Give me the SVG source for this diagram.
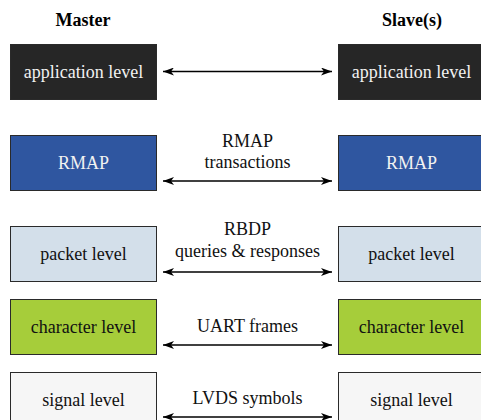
<svg xmlns="http://www.w3.org/2000/svg" width="481" height="420" viewBox="0 0 481 420">
<defs>
<marker id="ah" viewBox="0 0 12 8" refX="11" refY="4" markerWidth="12" markerHeight="8" markerUnits="userSpaceOnUse" orient="auto-start-reverse">
<path d="M0,0 L11,4 L0,8 L3,4 z" fill="#000"/>
</marker>
<style>
.box{stroke:#2a2a2a;stroke-width:1}
text{font-family:'Liberation Serif','DejaVu Serif',serif;font-size:18px;text-anchor:middle}
.h{font-weight:bold;fill:#000}
.w{fill:#f2f2f2}
.d{fill:#111}
.conn line{stroke:#000;stroke-width:1.6;marker-start:url(#ah);marker-end:url(#ah)}
</style>
</defs>
<rect width="481" height="420" fill="#fff"/>
<g font-family="Liberation Serif, serif">
<text class="h" x="83" y="26">Master</text>
<text class="h" x="412" y="26">Slave(s)</text>
<g id="m-app"><rect class="box" x="10.5" y="44.5" width="146" height="55" fill="#262626"/><text class="w" x="83.5" y="77.5">application level</text></g>
<g id="s-app"><rect class="box" x="338.5" y="44.5" width="146" height="55" fill="#262626"/><text class="w" x="411.5" y="77.5">application level</text></g>
<g id="m-rmap"><rect class="box" x="10.5" y="135.5" width="146" height="55" fill="#2f56a0"/><text class="w" x="83.5" y="168.5">RMAP</text></g>
<g id="s-rmap"><rect class="box" x="338.5" y="135.5" width="146" height="55" fill="#2f56a0"/><text class="w" x="411.5" y="168.5">RMAP</text></g>
<g id="m-packet"><rect class="box" x="10.5" y="226.5" width="146" height="55" fill="#d3dfea"/><text class="d" x="83.5" y="259.5">packet level</text></g>
<g id="s-packet"><rect class="box" x="338.5" y="226.5" width="146" height="55" fill="#d3dfea"/><text class="d" x="411.5" y="259.5">packet level</text></g>
<g id="m-char"><rect class="box" x="10.5" y="299.5" width="146" height="55" fill="#a6cd3a"/><text class="d" x="83.5" y="332.5">character level</text></g>
<g id="s-char"><rect class="box" x="338.5" y="299.5" width="146" height="55" fill="#a6cd3a"/><text class="d" x="411.5" y="332.5">character level</text></g>
<g id="m-signal"><rect class="box" x="10.5" y="372.5" width="146" height="55" fill="#f6f6f6"/><text class="d" x="83.5" y="405.5">signal level</text></g>
<g id="s-signal"><rect class="box" x="338.5" y="372.5" width="146" height="55" fill="#f6f6f6"/><text class="d" x="411.5" y="405.5">signal level</text></g>
<g id="connectors" class="conn">
<line x1="163" y1="71.5" x2="332" y2="71.5"/>
<line x1="163" y1="181" x2="332" y2="181"/>
<line x1="163" y1="272" x2="332" y2="272"/>
<line x1="163" y1="345" x2="332" y2="345"/>
<line x1="163" y1="417" x2="332" y2="417"/>
<text class="d" x="247.5" y="146.5">RMAP</text>
<text class="d" x="247.5" y="168">transactions</text>
<text class="d" x="247.5" y="235">RBDP</text>
<text class="d" x="247.5" y="256.5">queries &amp; responses</text>
<text class="d" x="247.5" y="332">UART frames</text>
<text class="d" x="247.5" y="403.5">LVDS symbols</text>
</g>
</g>
</svg>
